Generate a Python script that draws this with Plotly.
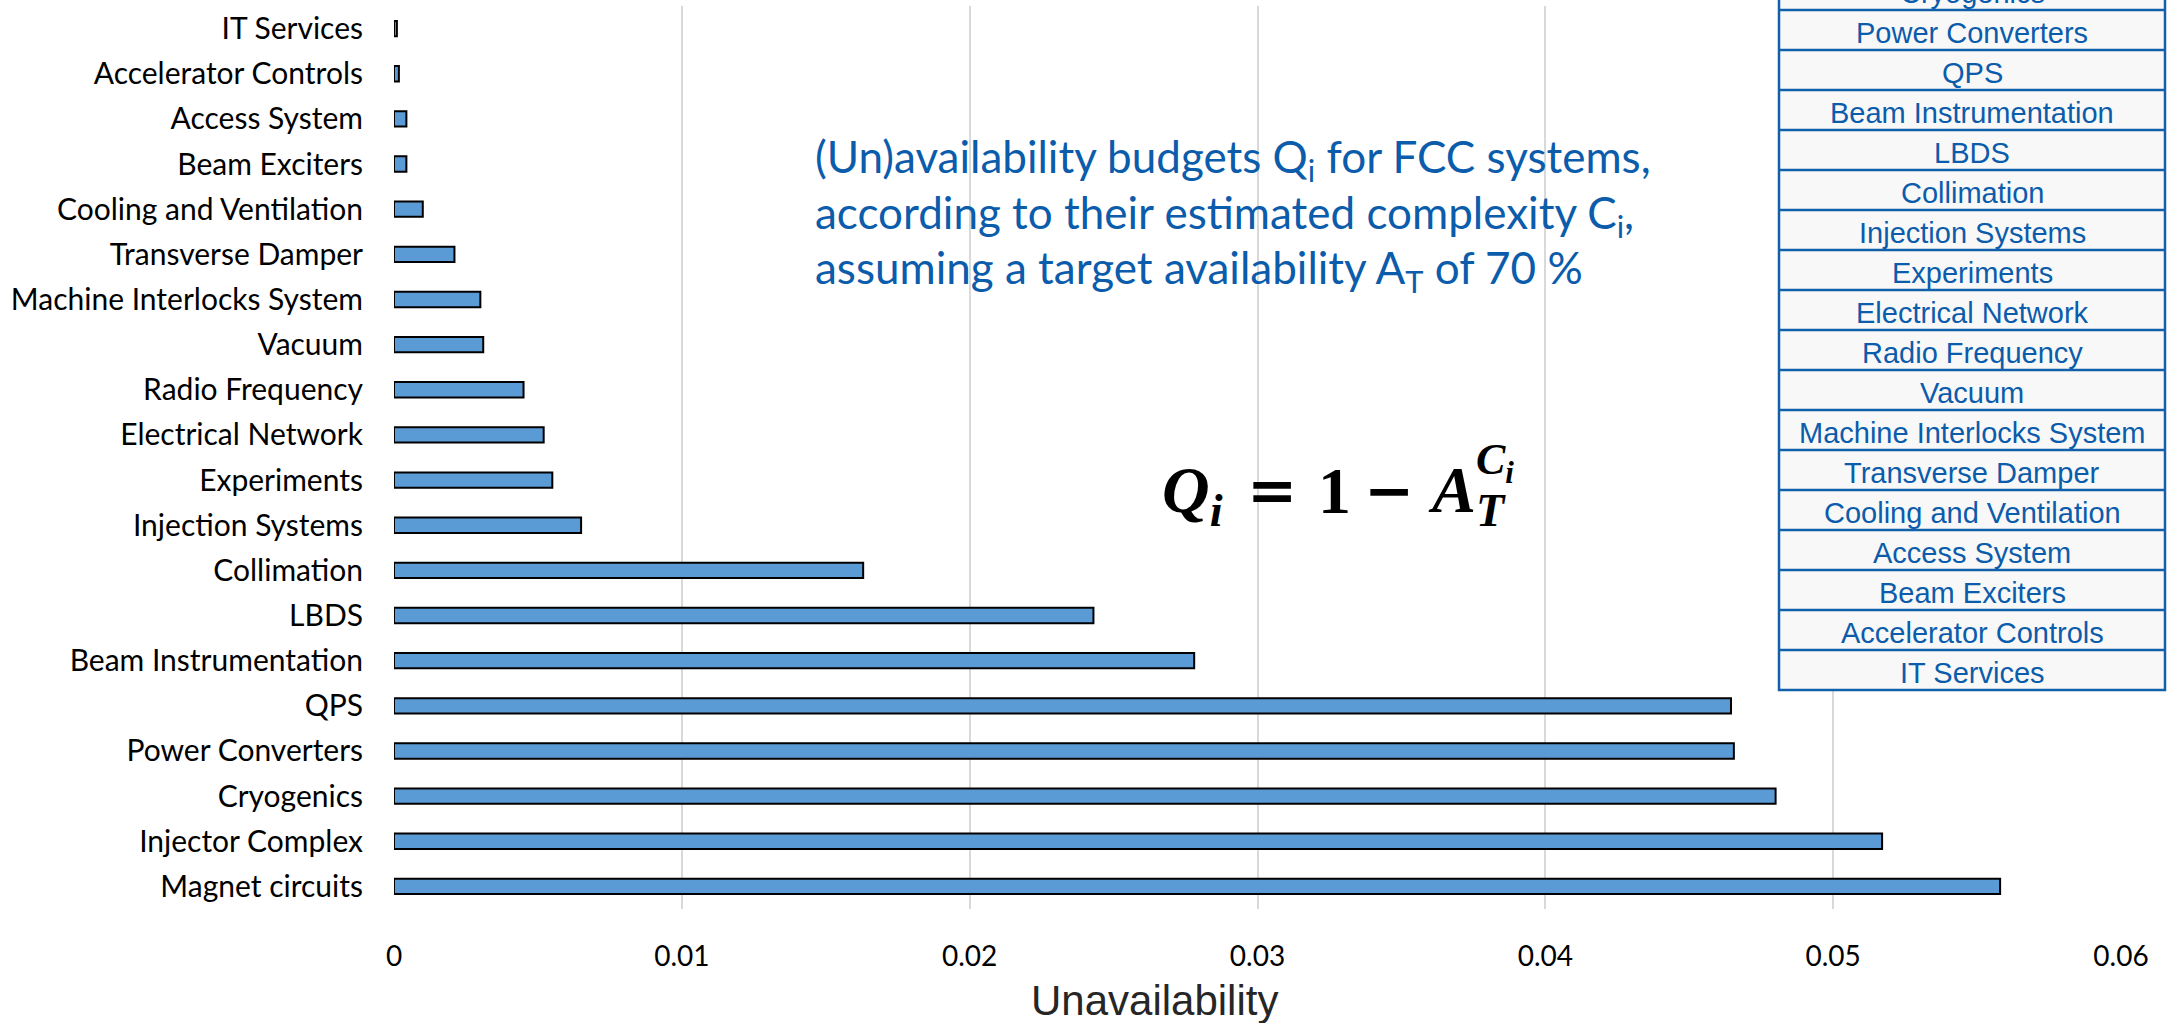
import plotly.graph_objects as go

# Systems, listed from the bottom bar to the top bar
systems = [
    "Magnet circuits", "Injector Complex", "Cryogenics", "Power Converters", "QPS",
    "Beam Instrumentation", "LBDS", "Collimation", "Injection Systems", "Experiments",
    "Electrical Network", "Radio Frequency", "Vacuum", "Machine Interlocks System",
    "Transverse Damper", "Cooling and Ventilation", "Beam Exciters", "Access System",
    "Accelerator Controls", "IT Services",
]
unavailability = [
    0.0558, 0.0517, 0.0480, 0.04655, 0.04645,
    0.0278, 0.0243, 0.0163, 0.0065, 0.0055,
    0.0052, 0.0045, 0.0031, 0.0030,
    0.0021, 0.0010, 0.00043, 0.00043,
    0.00017, 0.0001,
]

# Complexity ranking table shown at the upper right (visible rows)
table_rows = [
    "Cryogenics", "Power Converters", "QPS", "Beam Instrumentation", "LBDS",
    "Collimation", "Injection Systems", "Experiments", "Electrical Network",
    "Radio Frequency", "Vacuum", "Machine Interlocks System", "Transverse Damper",
    "Cooling and Ventilation", "Access System", "Beam Exciters",
    "Accelerator Controls", "IT Services",
]

tick_values = [0, 0.01, 0.02, 0.03, 0.04, 0.05, 0.06]
tick_labels = ["0", "0.01", "0.02", "0.03", "0.04", "0.05", "0.06"]

W, H = 2167, 1023
ML, MR, MT, MB = 394, 46, 6, 114
PW, PH = W - ML - MR, H - MT - MB


def px(x):
    return (x - ML) / PW


def py(y):
    return (H - MB - y) / PH


BLUE_TXT = "#0B5CAB"
BODY_FONT = "Lato"

fig = go.Figure(
    go.Bar(
        x=unavailability,
        y=systems,
        orientation="h",
        width=0.34,
        marker=dict(color="#5B9BD5", line=dict(color="#000000", width=2)),
    )
)

shapes = []
annotations = []

# Ranking table: background box, row separators and row labels
ROW_H = 40
T_LEFT, T_RIGHT = 1779, 2165
first_top = 10 - ROW_H
bottom = first_top + ROW_H * len(table_rows)
shapes.append(dict(
    type="rect", xref="paper", yref="paper",
    x0=px(T_LEFT), x1=px(T_RIGHT), y0=py(bottom), y1=py(first_top - 20),
    fillcolor="#F8F8F8", line=dict(color="#125FAA", width=2.5), layer="above",
))
for i, name in enumerate(table_rows):
    top = first_top + i * ROW_H
    if i > 0:
        shapes.append(dict(
            type="line", xref="paper", yref="paper",
            x0=px(T_LEFT), x1=px(T_RIGHT), y0=py(top), y1=py(top),
            line=dict(color="#125FAA", width=2.5), layer="above",
        ))
    annotations.append(dict(
        xref="paper", yref="paper", x=px((T_LEFT + T_RIGHT) / 2), y=py(top + ROW_H / 2 + 3),
        text=name, showarrow=False, xanchor="center", yanchor="middle",
        font=dict(family="Liberation Sans, Arial", size=29, color=BLUE_TXT),
    ))

# Descriptive text block
desc_lines = [
    "(Un)availability budgets Q<sub>i</sub> for FCC systems,",
    "according to their estimated complexity C<sub>i</sub>,",
    "assuming a target availability A<sub>T</sub> of 70 %",
]
for k, line in enumerate(desc_lines):
    annotations.append(dict(
        xref="paper", yref="paper", x=px(813), y=py(160 + 55 * k),
        text=line, showarrow=False, xanchor="left", yanchor="middle",
        font=dict(family=BODY_FONT, size=44, color=BLUE_TXT),
    ))

# Budget formula  Q_i = 1 - A_T^(C_i)
MATH = "Liberation Serif, DejaVu Serif, serif"
OPS = "DejaVu Serif, serif"
formula_parts = [
    ("<b><i>Q<sub>i</sub></i></b>", 1160, 494, "left", 66, MATH),
    ("<b>=</b>", 1272, 490, "center", 60, OPS),
    ("<b>1</b>", 1334, 490, "center", 66, MATH),
    ("<b>−</b>", 1389, 490, "center", 60, OPS),
    ("<b><i>A<sub>T</sub></i></b>", 1426, 494, "left", 66, MATH),
    ("<b><i>C<sub>i</sub></i></b>", 1474, 462, "left", 44, MATH),
]
for text, x, y, anchor, size, fam in formula_parts:
    annotations.append(dict(
        xref="paper", yref="paper", x=px(x), y=py(y),
        text=text, showarrow=False, xanchor=anchor, yanchor="middle",
        font=dict(family=fam, size=size, color="#000000"),
    ))

# Axis title
annotations.append(dict(
    xref="paper", yref="paper", x=px(1154), y=py(1000),
    text="Unavailability", showarrow=False, xanchor="center", yanchor="middle",
    font=dict(family="Liberation Sans, Arial", size=42, color="#262626"),
))

fig.update_layout(
    width=W, height=H,
    margin=dict(l=ML, r=MR, t=MT, b=MB, pad=0),
    paper_bgcolor="#FFFFFF", plot_bgcolor="#FFFFFF",
    showlegend=False,
    bargap=0.66,
    shapes=shapes,
    annotations=annotations,
    xaxis=dict(
        range=[0, 0.06],
        tickvals=tick_values, ticktext=tick_labels,
        showgrid=True, gridcolor="#D9D9D9", gridwidth=2,
        zeroline=False, showline=False, ticks="",
        ticklabelstandoff=28,
        tickfont=dict(family=BODY_FONT, size=28, color="#000000"),
    ),
    yaxis=dict(
        type="category",
        showgrid=False, zeroline=False, showline=False, ticks="",
        ticklabelstandoff=30,
        tickfont=dict(family=BODY_FONT, size=30, color="#000000"),
    ),
)

fig.write_html("out.html")
